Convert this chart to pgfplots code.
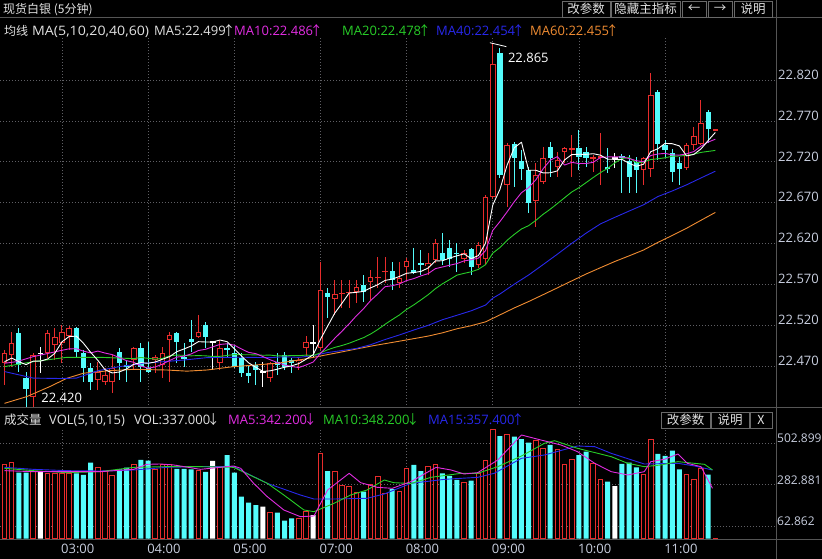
\documentclass[border=0pt]{standalone}
\usepackage{fontspec}
\setmainfont{Open Sans}
\newfontfamily\cjk{Noto Sans CJK SC}
\usepackage{pgfplots}
\pgfplotsset{compat=1.18}
\usepackage{pgfplotstable}

\definecolor{cred}{RGB}{232,44,44}
\definecolor{ccyan}{RGB}{84,252,252}
\definecolor{cmag}{RGB}{225,45,225}
\definecolor{cgrn}{RGB}{40,205,40}
\definecolor{cblu}{RGB}{40,40,235}
\definecolor{corg}{RGB}{240,140,50}
\definecolor{cgrid}{RGB}{95,95,100}
\definecolor{csep}{RGB}{85,85,85}
\definecolor{clbl}{RGB}{200,206,222}
\definecolor{ctxt}{RGB}{225,225,225}
\definecolor{cbtn}{RGB}{105,105,105}

\newcommand\fs{\fontsize{13}{15}\selectfont}
\newcommand\fsv{\fontsize{12}{14}\selectfont}
\newcommand\fc{\cjk\fontsize{12.5}{15}\selectfont}
\newcommand\up{\makebox[6.5pt][c]{\cjk\fontsize{13}{15}\selectfont ↑}}
\newcommand\dn{\makebox[6.5pt][c]{\cjk\fontsize{13}{15}\selectfont ↓}}

\pgfplotstableread{
i O H L C V
0 22.4749 22.4903 22.4476 22.4863 391
1 22.4842 22.5127 22.4700 22.4985 400
4 22.4334 22.4863 22.4212 22.4842 352
6 22.4863 22.5148 22.4802 22.5115 344
7 22.4965 22.5168 22.4781 22.5066 344
8 22.4985 22.5209 22.4741 22.5127 344
9 22.5074 22.5197 22.4903 22.5168 344
13 22.4537 22.4761 22.4415 22.4639 375
14 22.4517 22.4680 22.4476 22.4598 352
15 22.4517 22.4842 22.4374 22.4680 330
18 22.4781 22.4944 22.4659 22.4924 388
21 22.4781 22.4842 22.4619 22.4822 365
22 22.4720 22.4944 22.4558 22.4863 391
23 22.5026 22.5127 22.4517 22.5087 388
27 22.5066 22.5331 22.5046 22.5127 361
30 22.4741 22.5026 22.4659 22.4924 375
37 22.4558 22.4761 22.4517 22.4741 137
41 22.4753 22.4822 22.4659 22.4781 107
42 22.4924 22.5074 22.4822 22.5005 142
44 22.4924 22.5982 22.4904 22.5636 449
46 22.5526 22.5758 22.5331 22.5583 356
47 22.5587 22.5758 22.5412 22.5604 282
48 22.5596 22.5758 22.5412 22.5616 277
49 22.5616 22.5758 22.5473 22.5677 242
51 22.5738 22.5880 22.5514 22.5799 287
52 22.5787 22.6035 22.5657 22.5799 326
53 22.5860 22.6035 22.5718 22.5872 238
55 22.5718 22.5982 22.5657 22.5779 247
56 22.5921 22.6023 22.5758 22.5990 370
59 22.5933 22.6084 22.5819 22.5962 382
60 22.6002 22.6255 22.5962 22.6214 391
64 22.6011 22.6125 22.5962 22.6084 296
66 22.5941 22.6226 22.5901 22.6186 344
67 22.6020 22.6800 22.5940 22.6775 409
68 22.6775 22.8650 22.6750 22.8400 577
70 22.6918 22.7426 22.6653 22.7406 546
74 22.6726 22.7182 22.6409 22.7040 519
75 22.6958 22.7386 22.6938 22.7243 475
77 22.7141 22.7325 22.7019 22.7223 467
78 22.7325 22.7386 22.7182 22.7365 388
79 22.7353 22.7528 22.7019 22.7365 417
82 22.7243 22.7284 22.7080 22.7263 393
83 22.7255 22.7548 22.6918 22.7275 309
89 22.7101 22.7264 22.6918 22.7243 340
90 22.7109 22.8281 22.7019 22.8016 523
95 22.7121 22.7426 22.7101 22.7406 340
96 22.7406 22.7630 22.7345 22.7516 309
97 22.7426 22.7955 22.7406 22.7679 370
99 22.7585 22.7605 22.7575 22.7595 3
}\upT

\pgfplotstableread{
i O H L C V
2 22.5107 22.5168 22.4639 22.4720 347
3 22.4557 22.4639 22.4203 22.4423 347
10 22.5168 22.5188 22.4822 22.4883 344
11 22.4863 22.4903 22.4517 22.4680 335
12 22.4680 22.4741 22.4415 22.4517 400
16 22.4883 22.4924 22.4537 22.4741 365
17 22.4720 22.4781 22.4517 22.4700 374
19 22.4924 22.4985 22.4517 22.4700 414
20 22.4680 22.5005 22.4619 22.4639 410
24 22.5107 22.5127 22.4741 22.5005 367
25 22.4822 22.4985 22.4700 22.4802 367
26 22.5034 22.5270 22.4883 22.5005 365
28 22.5209 22.5249 22.4924 22.5066 352
31 22.4924 22.4985 22.4822 22.4903 440
32 22.4863 22.4965 22.4680 22.4700 347
33 22.4802 22.4863 22.4578 22.4619 221
34 22.4619 22.4720 22.4497 22.4586 189
35 22.4720 22.4761 22.4476 22.4659 177
38 22.4761 22.4863 22.4598 22.4720 137
39 22.4842 22.4883 22.4659 22.4700 95
40 22.4781 22.4802 22.4619 22.4749 107
45 22.5596 22.5657 22.5290 22.5555 356
50 22.5697 22.5819 22.5494 22.5616 247
54 22.5872 22.5982 22.5636 22.5758 260
57 22.5880 22.6145 22.5832 22.5848 388
58 22.5970 22.6125 22.5819 22.5941 356
61 22.6092 22.6328 22.5941 22.6002 344
62 22.6145 22.6247 22.5921 22.6011 331
63 22.6092 22.6206 22.5860 22.6076 309
65 22.6133 22.6145 22.5819 22.5921 305
69 22.8525 22.8590 22.7000 22.7040 540
71 22.7426 22.7447 22.6897 22.7243 537
72 22.7211 22.7345 22.6979 22.7109 524
73 22.7101 22.7141 22.6572 22.6694 505
76 22.7386 22.7447 22.7019 22.7251 493
80 22.7365 22.7589 22.7101 22.7263 440
81 22.7325 22.7386 22.7141 22.7243 458
84 22.7141 22.7365 22.7060 22.7121 300
86 22.7272 22.7296 22.6816 22.7243 393
87 22.7211 22.7284 22.6816 22.7019 400
88 22.7202 22.7264 22.6816 22.7101 375
91 22.8057 22.8077 22.7223 22.7426 446
92 22.7406 22.7467 22.7243 22.7345 435
93 22.7304 22.7365 22.6958 22.7080 463
94 22.7190 22.7264 22.6918 22.7109 365
98 22.7813 22.7833 22.7426 22.7597 337
}\downT

\pgfplotstableread{
i O H L C V
5 22.4863 22.4944 22.4619 22.4863 352
29 22.5005 22.5005 22.4659 22.5005 409
36 22.4639 22.4761 22.4456 22.4639 168
43 22.4993 22.5209 22.4822 22.4993 124
85 22.7251 22.7304 22.7121 22.7251 277
}\dojiT

\pgfplotsset{
  kbase/.style={
    scale only axis, anchor=south west, width=776pt,
    xmin=-0.627, xmax=107.45,
    axis line style={draw=none},
    major tick length=0pt,
    xtick={8,20,32,44,56,68,80,92},
    xmajorgrids, ymajorgrids,
    major grid style={draw=cgrid, line width=0.8pt, dash pattern=on 0.8pt off 2.2pt},
    ytick pos=right,
    yticklabel style={anchor=south west, inner sep=0pt, xshift=2pt, yshift=0.5pt, font=\fs, text=clbl},
    /pgf/number format/assume math mode=true,
  },
  candle/.style 2 args={draw=none, mark=none, forget plot,
    error bars/.cd, y dir=both, y explicit, error mark=none,
    error bar style={draw=#1, line width=#2, solid}},
}

\newcommand\btn[5]{\draw[cbtn, fill=black, line width=0.8pt] (#1,#2) rectangle (#3,#4);
  \node[text=ctxt, inner sep=0pt] at ({(#1+#3)/2},{(#2+#4)/2}) {\fc #5};}

\begin{document}
\begin{tikzpicture}[x=1pt,y=1pt]
\fill[black] (0,0) rectangle (822,559);
\useasboundingbox (0,0) rectangle (822,559);

% ---------------- price panel ----------------
\begin{axis}[kbase, at={(0pt,151pt)}, height=371pt,
  ymin=22.41951, ymax=22.8725,
  ytick={22.47,22.52,22.57,22.62,22.67,22.72,22.77,22.82},
  yticklabels={22.470,22.520,22.570,22.620,22.670,22.720,22.770,22.820},
  xticklabels={}]
% wicks
\addplot[candle={cred}{1pt}] table[x=i, y expr={(\thisrow{H}+\thisrow{L})/2}, y error expr={(\thisrow{H}-\thisrow{L})/2}]{\upT};
\addplot[candle={ccyan}{1pt}] table[x=i, y expr={(\thisrow{H}+\thisrow{L})/2}, y error expr={(\thisrow{H}-\thisrow{L})/2}]{\downT};
\addplot[candle={white}{1pt}] table[x=i, y expr={(\thisrow{H}+\thisrow{L})/2}, y error expr={(\thisrow{H}-\thisrow{L})/2}]{\dojiT};
% bodies
\addplot[candle={cred}{5.6pt}] table[x=i, y expr={(\thisrow{O}+\thisrow{C})/2}, y error expr={max(abs(\thisrow{C}-\thisrow{O})/2,0.0006)}]{\upT};
\addplot[candle={black}{3.6pt}] table[x=i, y expr={(\thisrow{O}+\thisrow{C})/2}, y error expr={max(abs(\thisrow{C}-\thisrow{O})/2-0.00122,0)}]{\upT};
\addplot[candle={ccyan}{5.2pt}] table[x=i, y expr={(\thisrow{O}+\thisrow{C})/2}, y error expr={max(abs(\thisrow{C}-\thisrow{O})/2,0.0006)}]{\downT};
\addplot[candle={white}{5.6pt}] table[x=i, y expr={(\thisrow{O}+\thisrow{C})/2}, y error expr={0.0006}]{\dojiT};

% MA60
\addplot[corg, line width=0.9pt, line join=round] coordinates {
(0,22.4252)(3.1,22.4334)(6.3,22.4456)(8.7,22.4558)(11,22.4620)(14.7,22.4651)(18,22.4667)(22.6,22.4659)(25.4,22.4645)(28.2,22.4659)(31.9,22.4700)(38,22.4741)(41.6,22.4790)(46.4,22.4870)(51,22.4950)(55.6,22.5020)(59,22.5073)(61,22.5113)(63,22.5162)(65,22.5200)(67,22.5247)(69,22.5332)(71,22.5417)(73,22.5495)(75,22.5578)(77,22.5662)(79,22.5747)(81,22.5831)(83,22.5908)(85,22.5984)(87,22.6053)(89,22.6124)(91,22.6217)(93,22.6302)(95,22.6390)(97,22.6487)(99,22.6583)};
% MA40
\addplot[cblu, line width=0.9pt, line join=round] coordinates {
(0,22.4640)(4,22.4560)(8,22.4555)(10,22.4560)(13,22.4650)(16,22.4700)(19.4,22.4741)(25,22.4781)(28.2,22.4810)(33,22.4815)(37,22.4810)(39,22.4821)(41,22.4813)(43,22.4835)(45,22.4872)(47,22.4897)(49,22.4922)(51,22.4968)(53,22.5031)(55,22.5087)(57,22.5147)(59,22.5204)(61,22.5273)(63,22.5327)(65,22.5382)(67,22.5452)(68,22.5536)(69,22.5587)(71,22.5707)(73,22.5819)(75,22.5945)(77,22.6073)(79,22.6205)(81,22.6330)(83,22.6443)(85,22.6523)(87,22.6600)(89,22.6676)(91,22.6777)(93,22.6845)(95,22.6920)(97,22.7004)(98,22.7045)(99,22.7086)};
% MA20
\addplot[cgrn, line width=0.9pt, line join=round] coordinates {
(0,22.4700)(4,22.4761)(8.7,22.4814)(13.3,22.4814)(18,22.4798)(19,22.4812)(20,22.4801)(21,22.4792)(22,22.4800)(23,22.4833)(24,22.4841)(25,22.4838)(26,22.4832)(27,22.4835)(28,22.4832)(29,22.4824)(30,22.4826)(31,22.4837)(32,22.4847)(33,22.4846)(34,22.4845)(35,22.4844)(36,22.4839)(37,22.4841)(38,22.4831)(39,22.4831)(40,22.4836)(41,22.4834)(42,22.4841)(43,22.4836)(44,22.4868)(45,22.4906)(46,22.4935)(47,22.4958)(48,22.4986)(49,22.5020)(50,22.5054)(51,22.5099)(52,22.5154)(53,22.5217)(54,22.5275)(55,22.5331)(56,22.5399)(57,22.5454)(58,22.5515)(59,22.5578)(60,22.5651)(61,22.5712)(62,22.5763)(63,22.5817)(64,22.5839)(65,22.5858)(66,22.5888)(67,22.5946)(68,22.6086)(69,22.6154)(70,22.6243)(71,22.6315)(72,22.6381)(73,22.6422)(74,22.6486)(75,22.6559)(76,22.6622)(77,22.6691)(78,22.6762)(79,22.6832)(80,22.6885)(81,22.6947)(82,22.7010)(83,22.7069)(84,22.7121)(85,22.7188)(86,22.7241)(87,22.7253)(88,22.7188)(89,22.7198)(90,22.7229)(91,22.7238)(92,22.7250)(93,22.7269)(94,22.7272)(95,22.7280)(96,22.7294)(97,22.7316)(98,22.7328)(99,22.7340)};
% MA10
\addplot[cmag, line width=0.9pt, line join=round] coordinates {
(0,22.4741)(1.7,22.4761)(4,22.4822)(6.5,22.4870)(8,22.4900)(9,22.4917)(10,22.4919)(11,22.4889)(12,22.4868)(13,22.4890)(14,22.4866)(15,22.4847)(16,22.4810)(17,22.4773)(18,22.4753)(19,22.4706)(20,22.4682)(21,22.4696)(22,22.4731)(23,22.4775)(24,22.4816)(25,22.4828)(26,22.4855)(27,22.4897)(28,22.4912)(29,22.4942)(30,22.4971)(31,22.4979)(32,22.4962)(33,22.4916)(34,22.4874)(35,22.4859)(36,22.4823)(37,22.4784)(38,22.4750)(39,22.4719)(40,22.4702)(41,22.4689)(42,22.4720)(43,22.4757)(44,22.4862)(45,22.4952)(46,22.5046)(47,22.5133)(48,22.5222)(49,22.5320)(50,22.5407)(51,22.5508)(52,22.5588)(53,22.5676)(54,22.5688)(55,22.5710)(56,22.5751)(57,22.5775)(58,22.5808)(59,22.5836)(60,22.5896)(61,22.5917)(62,22.5938)(63,22.5958)(64,22.5991)(65,22.6005)(66,22.6025)(67,22.6117)(68,22.6363)(69,22.6471)(70,22.6590)(71,22.6714)(72,22.6824)(73,22.6886)(74,22.6981)(75,22.7114)(76,22.7220)(77,22.7265)(78,22.7161)(79,22.7194)(80,22.7180)(81,22.7180)(82,22.7195)(83,22.7253)(84,22.7261)(85,22.7262)(86,22.7261)(87,22.7241)(88,22.7214)(89,22.7202)(90,22.7278)(91,22.7296)(92,22.7304)(93,22.7285)(94,22.7283)(95,22.7299)(96,22.7326)(97,22.7392)(98,22.7442)(99,22.7477)};
% MA5
\addplot[white, line width=0.9pt, line join=round] coordinates {
(0,22.4761)(1,22.4805)(2,22.4760)(3,22.4725)(4,22.4767)(5,22.4767)(6,22.4793)(7,22.4862)(8,22.5003)(9,22.5068)(10,22.5072)(11,22.4985)(12,22.4875)(13,22.4777)(14,22.4663)(15,22.4623)(16,22.4635)(17,22.4672)(18,22.4729)(19,22.4749)(20,22.4741)(21,22.4757)(22,22.4790)(23,22.4822)(24,22.4883)(25,22.4916)(26,22.4952)(27,22.5005)(28,22.5001)(29,22.5001)(30,22.5025)(31,22.5005)(32,22.4920)(33,22.4830)(34,22.4746)(35,22.4693)(36,22.4641)(37,22.4649)(38,22.4669)(39,22.4692)(40,22.4710)(41,22.4738)(42,22.4791)(43,22.4846)(44,22.5033)(45,22.5194)(46,22.5354)(47,22.5474)(48,22.5599)(49,22.5607)(50,22.5619)(51,22.5662)(52,22.5701)(53,22.5753)(54,22.5769)(55,22.5801)(56,22.5840)(57,22.5849)(58,22.5863)(59,22.5904)(60,22.5991)(61,22.5993)(62,22.6026)(63,22.6053)(64,22.6077)(65,22.6019)(66,22.6056)(67,22.6208)(68,22.6673)(69,22.6864)(70,22.7161)(71,22.7373)(72,22.7440)(73,22.7098)(74,22.7098)(75,22.7066)(76,22.7067)(77,22.7090)(78,22.7224)(79,22.7289)(80,22.7293)(81,22.7292)(82,22.7300)(83,22.7282)(84,22.7233)(85,22.7231)(86,22.7231)(87,22.7182)(88,22.7147)(89,22.7171)(90,22.7324)(91,22.7361)(92,22.7426)(93,22.7422)(94,22.7395)(95,22.7273)(96,22.7291)(97,22.7358)(98,22.7461)(99,22.7559)};

% extreme annotations
\draw[white, line width=0.8pt] (axis cs:67.6,22.8655) -- (axis cs:69.9,22.8607);
\node[anchor=west, inner sep=0pt, text=white, font=\fs] at (axis cs:70.1,22.8469) {22.865};
\draw[white, line width=0.8pt] (axis cs:3,22.4206) -- (axis cs:4.95,22.4206);
\node[anchor=west, inner sep=0pt, text=white, font=\fs] at (axis cs:5.1,22.4317) {22.420};
\end{axis}

% ---------------- volume panel ----------------
\begin{axis}[kbase, at={(0pt,20pt)}, height=110.55pt,
  ymin=-1.9, ymax=580,
  ytick={62.862,282.881,502.899},
  yticklabels={62.862,282.881,502.899},
  yticklabel style={font=\fsv, xshift=-1pt},
  xticklabels={03:00,04:00,05:00,07:00,08:00,09:00,10:00,11:00},
  xticklabel style={anchor=north west, inner sep=0pt, yshift=-5pt, xshift=-1pt, font=\fs, text=clbl}]
\addplot[ybar, bar width=4.6pt, bar shift=0pt, draw=cred, fill=black, line width=1pt] table[x=i,y=V]{\upT};
\addplot[ybar, bar width=5pt, bar shift=0pt, draw=none, fill=ccyan] table[x=i,y=V]{\downT};
\addplot[ybar, bar width=5pt, bar shift=0pt, draw=none, fill=white] table[x=i,y=V]{\dojiT};
% MA15
\addplot[cblu, line width=0.9pt, line join=round] coordinates {
(0,375.3)(4,364.8)(8.7,357.8)(13.3,356)(18,361.3)(22.6,375.3)(27.3,378.9)(31.9,378.9)(36.6,291.1)(41.2,229.7)(43.1,208.6)(45.9,208.6)(50.5,212.2)(52.9,235)(56.6,291.1)(61.3,312.2)(65.9,322.7)(68.2,343.8)(72,422.7)(75.2,440.3)(79.8,487.6)(82.2,484.1)(84.5,449.0)(89.1,392.9)(93.8,396.4)(96.1,382.4)(98.6,361.3)};
% MA10
\addplot[cgrn, line width=0.9pt, line join=round] coordinates {
(0,370.1)(4,357.8)(8.7,347.3)(13.3,352.5)(18,375.3)(22.6,378.9)(27.3,378.9)(31.9,375.3)(36.6,291.1)(38.9,229.7)(41.7,150.8)(43.1,142)(45.9,185.9)(48.2,229.7)(50.5,256)(52.9,308.7)(54.2,294.6)(56.6,290)(59.4,322.7)(63.6,343.8)(65.9,343.8)(68.7,378.9)(72,435)(75.2,501.7)(76.6,515.7)(79.8,475.4)(84.5,431.5)(86.8,396.4)(89.1,378.9)(91.4,387.6)(93.8,405.2)(96.1,396.4)(97.5,391.1)(98.6,361.3)};
% MA5
\addplot[cmag, line width=0.9pt, line join=round] coordinates {
(0,357.8)(4,352.5)(8.7,352.5)(13.3,352.5)(18,364.8)(19.8,391.1)(21.7,392.9)(23.6,387.6)(27.3,364.8)(31.9,382.4)(32.9,370.1)(34.7,291.1)(36.6,220.9)(38.9,150.8)(41.2,115.7)(43.1,119.2)(45,256)(48,343.8)(49.6,294.6)(51.9,270.1)(54,264.8)(56.6,299.9)(60.1,375.3)(62.2,361.3)(64,340.3)(65.9,347.3)(68.7,413.9)(72,545.5)(74.7,519.2)(77.5,492.9)(79.8,457.8)(82.2,396.4)(84.5,352.5)(86.8,335)(89.1,352.5)(90,405.2)(91.9,417.5)(93.8,445.5)(95.1,396.4)(97,378.9)(98.6,264.8)};
\end{axis}

% ---------------- frame lines ----------------
\draw[csep, line width=1pt] (0,541) -- (822,541);
\draw[csep, line width=1pt] (0,151) -- (822,151);
\draw[csep, line width=1pt] (0,19.5) -- (822,19.5);
\draw[csep, line width=1pt] (776.5,0) -- (776.5,559);

% ---------------- header texts ----------------
\node[anchor=base west, inner sep=0pt, text=ctxt] at (3,545) {\cjk\fontsize{12}{14}\selectfont 现货白银 (5分钟)};
\node[anchor=base west, inner sep=0pt, text=ctxt] at (4,523) {\cjk\fontsize{12}{14}\selectfont 均线};
\node[anchor=base west, inner sep=0pt, text=ctxt] at (32,523) {\scalebox{1.09}[1]{\fs MA(5,10,20,40,60)}};
\node[anchor=base west, inner sep=0pt, text=ctxt] at (154,523) {\fs MA5:22.499\up};
\node[anchor=base west, inner sep=0pt, text=cmag] at (234,523) {\fs MA10:22.486\up};
\node[anchor=base west, inner sep=0pt, text=cgrn] at (342,523) {\fs MA20:22.478\up};
\node[anchor=base west, inner sep=0pt, text=cblu] at (436,523) {\fs MA40:22.454\up};
\node[anchor=base west, inner sep=0pt, text=corg] at (530,523) {\fs MA60:22.455\up};

\node[anchor=base west, inner sep=0pt, text=ctxt] at (4,134.5) {\fc 成交量};
\node[anchor=base west, inner sep=0pt, text=ctxt] at (49,134.5) {\fs VOL(5,10,15)};
\node[anchor=base west, inner sep=0pt, text=ctxt] at (134,134.5) {\fs VOL:337.000\dn};
\node[anchor=base west, inner sep=0pt, text=cmag] at (228,134.5) {\fs MA5:342.200\dn};
\node[anchor=base west, inner sep=0pt, text=cgrn] at (323,134.5) {\fs MA10:348.200\dn};
\node[anchor=base west, inner sep=0pt, text=cblu] at (428,134.5) {\fs MA15:357.400\up};

\btn{562}{542}{610}{558}{改参数}
\btn{611}{542}{680}{558}{隐藏主指标}
\btn{682}{542}{706}{558}{←}
\btn{708}{542}{732}{558}{→}
\btn{734}{542}{772}{558}{说明}
\btn{661}{131}{710}{147}{改参数}
\btn{711}{131}{749}{147}{说明}
\btn{750}{131}{772}{147}{X}
\end{tikzpicture}
\end{document}
